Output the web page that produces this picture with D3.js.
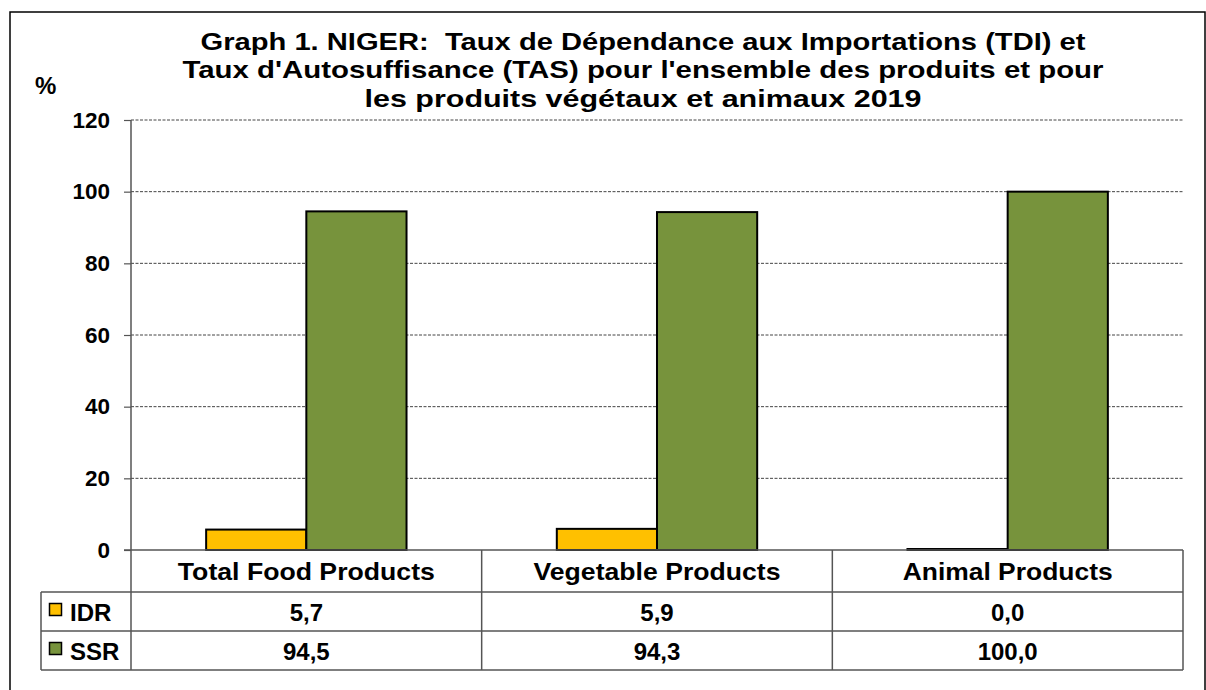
<!DOCTYPE html>
<html>
<head>
<meta charset="utf-8">
<script src="https://cdn.jsdelivr.net/npm/d3@7"></script>
<style>
  body { margin: 0; background: #fff; }
  text { font-family: "Liberation Sans", Arial, sans-serif; font-weight: bold; fill: #000; }
</style>
</head>
<body>
<div id="chart"></div>
<script>
// chart values
const categories = ["Total Food Products", "Vegetable Products", "Animal Products"];
const seriesNames = ["IDR", "SSR"];
const idrValues = [5.7, 5.9, 0.0];
const ssrValues = [94.5, 94.3, 100.0];
const yTicks = [0, 20, 40, 60, 80, 100, 120];
const titleLines = [
    "Graph 1. NIGER:  Taux de Dépendance aux Importations (TDI) et",
    "Taux d'Autosuffisance (TAS) pour l'ensemble des produits et pour",
    "les produits végétaux et animaux 2019"
];

const colours = { IDR: "#FFC000", SSR: "#77933C" };

// the original text is a bit stretched sideways, so widths are forced
const titleWidths = [885, 921, 557];
const categoryWidths = [257, 247, 210];

const W = 1206, H = 690;
const plot = { left: 131, right: 1183, top: 120, bottom: 550 };
const rowH = [42, 39, 39]; // category row, IDR row, SSR row

const svg = d3.select("#chart").append("svg")
    .attr("width", W)
    .attr("height", H);

// outer frame
svg.append("rect")
    .attr("x", 10).attr("y", 12)
    .attr("width", 1195).attr("height", 700)
    .attr("fill", "none")
    .attr("stroke", "#000")
    .attr("stroke-width", 1.5);

// title
svg.append("g").selectAll("text")
    .data(titleLines)
    .join("text")
    .attr("x", 643)
    .attr("y", (d, i) => 49.5 + i * 28.7)
    .attr("text-anchor", "middle")
    .attr("textLength", (d, i) => titleWidths[i])
    .attr("lengthAdjust", "spacingAndGlyphs")
    .style("font-size", "24px")
    .style("white-space", "pre")
    .text(d => d);

svg.append("text")
    .attr("x", 35).attr("y", 94)
    .style("font-size", "24px")
    .text("%");

const x = d3.scaleBand()
    .domain(categories)
    .range([plot.left, plot.right])
    .padding(0);

const xInner = d3.scaleBand()
    .domain(seriesNames)
    .range([0, x.bandwidth()])
    .paddingInner(0)
    .paddingOuter(0.75);

const y = d3.scaleLinear()
    .domain([0, 120])
    .range([plot.bottom, plot.top]);

// grid lines
svg.append("g").selectAll("line")
    .data(yTicks.filter(d => d > 0))
    .join("line")
    .attr("x1", plot.left).attr("x2", plot.right)
    .attr("y1", d => y(d)).attr("y2", d => y(d))
    .attr("stroke", "#444")
    .attr("stroke-width", 1)
    .attr("stroke-dasharray", "3,1.5");

// y axis
const yAxis = svg.append("g")
    .attr("transform", `translate(${plot.left},0)`)
    .call(d3.axisLeft(y).tickValues(yTicks).tickSize(7).tickPadding(14));
yAxis.select(".domain").remove();
yAxis.selectAll(".tick line").attr("stroke", "#555").attr("stroke-width", 1.2);
yAxis.selectAll(".tick text")
    .style("font-size", "22.5px")
    .style("font-family", "'Liberation Sans', Arial, sans-serif")
    .attr("fill", "#000");

// bars
const rows = categories.map((c, i) => ({ cat: c, IDR: idrValues[i], SSR: ssrValues[i] }));
const groups = svg.append("g").selectAll("g")
    .data(rows)
    .join("g")
    .attr("transform", d => `translate(${x(d.cat)},0)`);

groups.selectAll("rect")
    .data(d => seriesNames.map(s => ({ key: s, value: d[s] })))
    .join("rect")
    .attr("x", d => xInner(d.key))
    .attr("y", d => Math.min(y(d.value), y(0) - 1))
    .attr("width", xInner.bandwidth())
    .attr("height", d => Math.max(y(0) - y(d.value), 1)) // zero bar still shows its outline
    .attr("fill", d => colours[d.key])
    .attr("stroke", "#000")
    .attr("stroke-width", 2);

// data table
const tableTop = plot.bottom;
const rowY = [tableTop, tableTop + rowH[0], tableTop + rowH[0] + rowH[1], tableTop + rowH[0] + rowH[1] + rowH[2]];
const legendLeft = 41;
const table = svg.append("g").attr("stroke", "#555").attr("stroke-width", 1.5);

table.append("line")
    .attr("x1", plot.left - 7).attr("x2", plot.right)
    .attr("y1", rowY[0]).attr("y2", rowY[0]);
[1, 2, 3].forEach(i => {
    table.append("line")
        .attr("x1", legendLeft).attr("x2", plot.right)
        .attr("y1", rowY[i]).attr("y2", rowY[i]);
});
table.append("line")
    .attr("x1", legendLeft).attr("x2", legendLeft)
    .attr("y1", rowY[1]).attr("y2", rowY[3]);
table.append("line")
    .attr("x1", plot.left).attr("x2", plot.left)
    .attr("y1", plot.top).attr("y2", rowY[3]);
categories.forEach(c => {
    table.append("line")
        .attr("x1", x(c) + x.bandwidth()).attr("x2", x(c) + x.bandwidth())
        .attr("y1", rowY[0]).attr("y2", rowY[3]);
});

// category labels
svg.append("g").selectAll("text")
    .data(categories)
    .join("text")
    .attr("x", d => x(d) + x.bandwidth() / 2)
    .attr("y", rowY[0] + 29.5)
    .attr("text-anchor", "middle")
    .attr("textLength", (d, i) => categoryWidths[i])
    .attr("lengthAdjust", "spacingAndGlyphs")
    .style("font-size", "24.5px")
    .text(d => d);

// values rows
const fmt = v => v.toFixed(1).replace(".", ",");
[idrValues, ssrValues].forEach((vals, r) => {
    svg.append("g").selectAll("text")
        .data(vals)
        .join("text")
        .attr("x", (d, i) => x(categories[i]) + x.bandwidth() / 2)
        .attr("y", rowY[r + 1] + 28.5)
        .attr("text-anchor", "middle")
        .style("font-size", "24px")
        .text(d => fmt(d));

    const s = seriesNames[r];
    svg.append("rect")
        .attr("x", 49.5).attr("y", rowY[r + 1] + 11.5)
        .attr("width", 12).attr("height", 12)
        .attr("fill", colours[s])
        .attr("stroke", "#000")
        .attr("stroke-width", 1.5);
    svg.append("text")
        .attr("x", 70).attr("y", rowY[r + 1] + 28.5)
        .style("font-size", "24px")
        .text(s);
});
</script>
</body>
</html>
